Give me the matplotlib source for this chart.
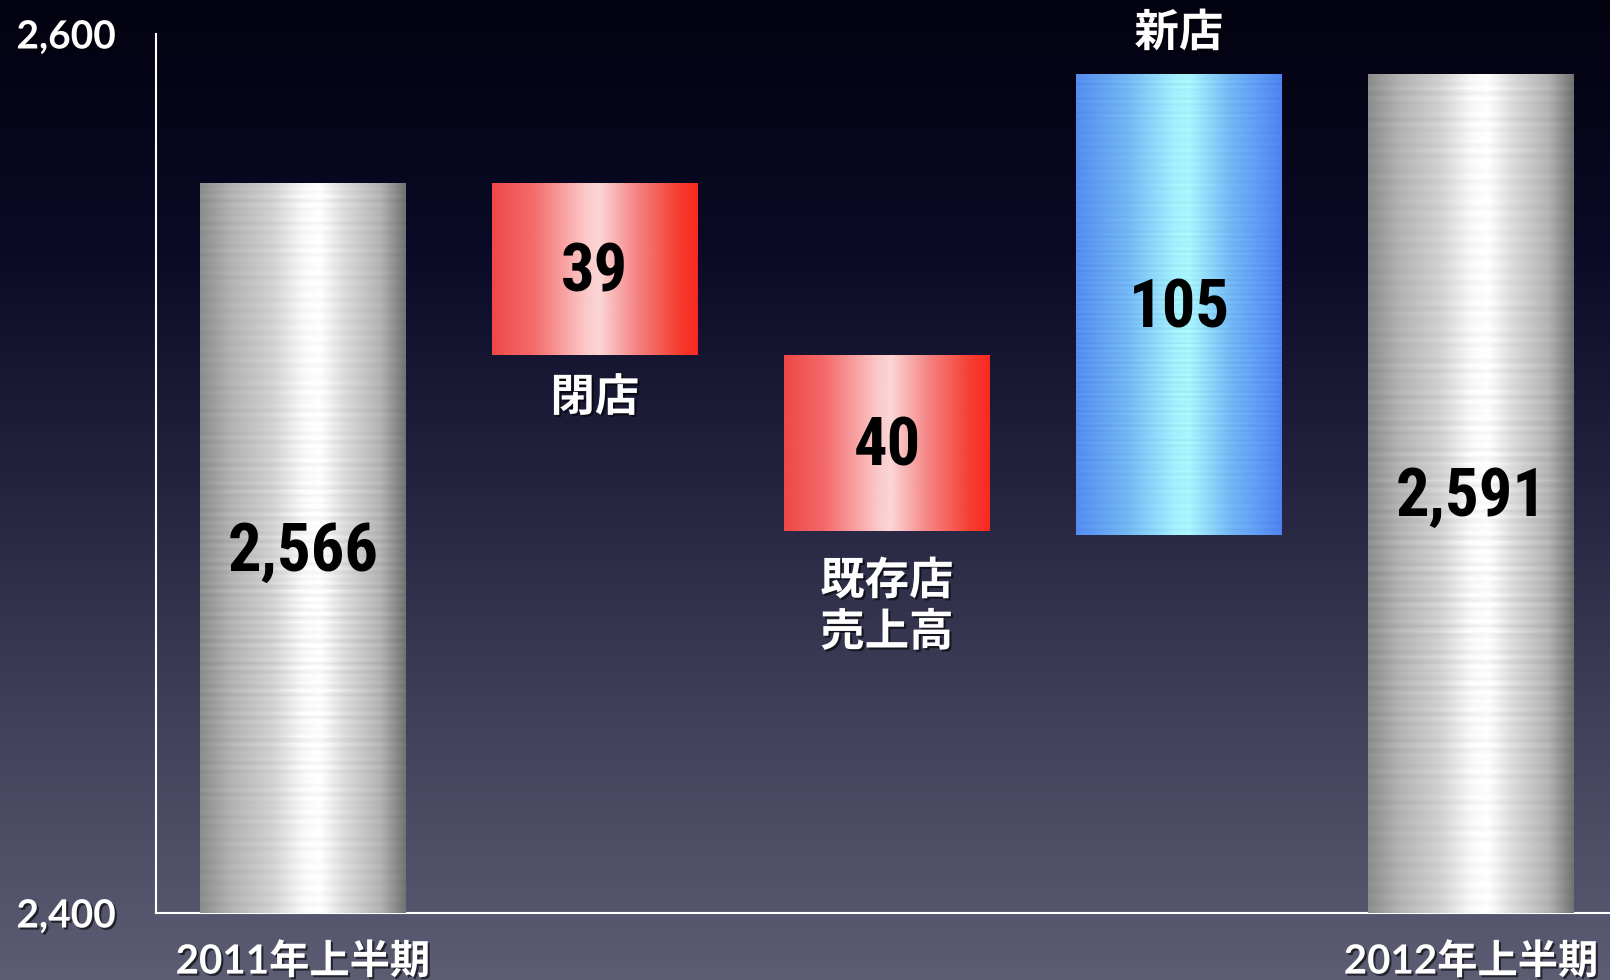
import numpy as np
import matplotlib as mpl
import matplotlib.pyplot as plt
import matplotlib.patheffects as pe
from matplotlib import font_manager as fm

mpl.rcParams["font.family"] = ["Noto Sans CJK JP", "DejaVu Sans"]

# データ
categories = ["2011年上半期", "閉店", "既存店\n売上高", "新店", "2012年上半期"]
start_total = 2566
end_total = 2591
closed = 39
existing = 40
new_store = 105
y_ticks = [2400, 2600]
y_tick_labels = ["2,400", "2,600"]
value_labels = ["2,566", "39", "40", "105", "2,591"]

base = y_ticks[0]
# ウォーターフォールの上下端
bottoms = [base, start_total - closed, start_total - closed - existing, end_total - new_store, base]
tops = [start_total, start_total, start_total - closed, end_total, end_total]
kinds = ["gray", "red", "red", "blue", "gray"]


def pick_family(cands, fallback):
    # 太字の静的フォントがあるものを優先
    avail = {(f.name, f.weight) for f in fm.fontManager.ttflist}
    for c in cands:
        if (c, 700) in avail or (c, "bold") in avail:
            return c
    return fallback


num_font = pick_family(["Liberation Sans Narrow", "Arial Narrow", "Nimbus Sans Narrow",
                        "Roboto Condensed", "Archivo Narrow", "Barlow Condensed",
                        "Asap Condensed"], "Liberation Sans")

# グラデーション定義 (横方向)
grads = {
    "gray": [(0.0, (0.55, 0.55, 0.55)), (0.15, (0.70, 0.70, 0.70)), (0.35, (0.82, 0.82, 0.82)),
             (0.5, (0.97, 0.97, 0.97)), (0.58, (1.0, 1.0, 1.0)), (0.7, (0.86, 0.86, 0.86)),
             (0.88, (0.70, 0.70, 0.70)), (1.0, (0.45, 0.45, 0.45))],
    "red": [(0.0, (0.94, 0.28, 0.28)), (0.2, (0.96, 0.42, 0.42)), (0.45, (0.99, 0.78, 0.78)),
            (0.52, (0.99, 0.84, 0.84)), (0.7, (0.96, 0.52, 0.52)), (0.9, (0.96, 0.25, 0.2)),
            (1.0, (0.98, 0.16, 0.12))],
    "blue": [(0.0, (0.33, 0.55, 0.94)), (0.25, (0.45, 0.72, 0.96)), (0.48, (0.64, 0.94, 1.0)),
             (0.55, (0.66, 0.96, 1.0)), (0.75, (0.45, 0.72, 0.96)), (0.9, (0.36, 0.60, 0.96)),
             (1.0, (0.31, 0.51, 0.94))],
}


def bar_image(kind, nx=200, ny=300):
    stops = grads[kind]
    xs = np.linspace(0, 1, nx)
    pos = [s[0] for s in stops]
    row = np.stack([np.interp(xs, pos, [s[1][c] for s in stops]) for c in range(3)], axis=-1)
    yy = np.arange(ny)
    # ヘアライン風の横筋
    streak = 1 + 0.035 * np.sin(yy * 1.7) * np.sin(yy * 0.31) + 0.02 * np.sin(yy * 4.3)
    img = row[None, :, :] * streak[:, None, None]
    return np.clip(img, 0, 1)


fig = plt.figure(figsize=(16.1, 9.8), dpi=100)

# 背景グラデーション
bg_ax = fig.add_axes([0, 0, 1, 1], zorder=-1)
gy = np.linspace(0, 1, 256)
bg_pos = [0.0, 0.25, 0.5, 0.75, 1.0]
bg_cols = [(2, 2, 16), (10, 10, 38), (36, 36, 64), (66, 66, 92), (92, 92, 115)]
bg = np.stack([np.interp(gy, bg_pos, [c[i] for c in bg_cols]) for i in range(3)], axis=-1) / 255
bg_ax.imshow(bg[:, None, :], aspect="auto", extent=[0, 1, 0, 1], origin="upper")
bg_ax.set_axis_off()

ax = fig.add_axes([156 / 1610, 1 - 913 / 980, 1 - 156 / 1610, (913 - 34) / 980])
ax.set_facecolor("none")

x = np.arange(len(categories))
heights = [t - b for t, b in zip(tops, bottoms)]
bars = ax.bar(x, heights, bottom=bottoms, width=0.705, facecolor="none", linewidth=0, zorder=3)

for bar, kind in zip(bars, kinds):
    x0, y0 = bar.get_x(), bar.get_y()
    im = ax.imshow(bar_image(kind), extent=[x0, x0 + bar.get_width(), y0, y0 + bar.get_height()],
                   aspect="auto", origin="upper", zorder=3, interpolation="bilinear")
    im.set_clip_path(bar)

shadow = [pe.withSimplePatchShadow(offset=(1.5, -1.5), shadow_rgbFace="black", alpha=0.6)]

# 数値ラベル
for xi, b, t, lab in zip(x, bottoms, tops, value_labels):
    ax.annotate(lab, (xi, (b + t) / 2), xytext=(0, -3.5), textcoords="offset points",
                ha="center", va="center", fontsize=48, fontweight="bold",
                family=[num_font, "Liberation Sans"], color="black", zorder=5)

# 増減項目のラベル
ax.annotate(categories[1], (x[1], bottoms[1]), xytext=(0, -31), textcoords="offset points",
            ha="center", va="center", fontsize=32, fontweight="bold", color="white",
            path_effects=shadow)
ax.annotate(categories[2], (x[2], bottoms[2]), xytext=(0, -55), textcoords="offset points",
            ha="center", va="center", fontsize=32, fontweight="bold", color="white",
            linespacing=1.15, path_effects=shadow)
ax.annotate(categories[3], (x[3], tops[3]), xytext=(0, 29), textcoords="offset points",
            ha="center", va="center", fontsize=32, fontweight="bold", color="white",
            path_effects=shadow, annotation_clip=False)

ax.set_xlim(-0.503, 4.476)
ax.set_ylim(y_ticks[0], y_ticks[1])

ax.set_xticks([x[0], x[-1]])
ax.set_xticklabels([categories[0], categories[-1]], fontsize=29, fontweight="bold",
                   color="white", family=["Lato", "Noto Sans CJK JP"])
ax.set_yticks(y_ticks)
ax.set_yticklabels(y_tick_labels, fontsize=28, fontweight="bold", color="white",
                   family=["Lato", "DejaVu Sans"])
ax.tick_params(axis="x", length=0, pad=21)
ax.tick_params(axis="y", length=0, pad=29)
for lab in ax.get_xticklabels() + ax.get_yticklabels():
    lab.set_path_effects(shadow)

for s in ["top", "right"]:
    ax.spines[s].set_visible(False)
for s in ["left", "bottom"]:
    ax.spines[s].set_color("white")
    ax.spines[s].set_linewidth(1.5)

fig.savefig("out.png", dpi=100)
